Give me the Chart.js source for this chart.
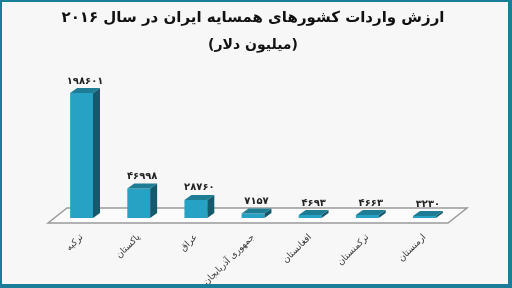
<!DOCTYPE html>
<html><head><meta charset="utf-8">
<script src="https://cdn.jsdelivr.net/npm/chart.js@4/dist/chart.umd.min.js"></script>
<style>
html,body{margin:0;padding:0;background:#f7f7f7;}
#wrap{position:relative;width:512px;height:288px;}
#frame{position:absolute;left:0;top:0;width:512px;height:288px;box-sizing:border-box;border-style:solid;border-color:#1b7d97;border-width:2px 4px 4px 2px;pointer-events:none;}
</style></head>
<body>
<div id="wrap"><canvas id="c" width="512" height="288"></canvas><div id="frame"></div></div>
<script>
const categories = ['ترکیه','پاکستان','عراق','جمهوری آذربایجان','افغانستان','ترکمنستان','ارمنستان'];
const imports = [198601, 46998, 28760, 7157, 4693, 4663, 3230];
const titleText = 'ارزش واردات کشورهای همسایه ایران در سال ۲۰۱۶';
const subtitleText = '(میلیون دلار)';

const FONT = "'DejaVu Sans', sans-serif";
const faDigits = '۰۱۲۳۴۵۶۷۸۹';
function toFa(n){ return String(n).replace(/[0-9]/g, d => faDigits[+d]); }

const DX = 7, DY = 5;
const threeD = {
  id: 'threeD',
  beforeDatasetsDraw(chart){
    const ctx = chart.ctx, a = chart.chartArea;
    const base = chart.scales.y.getPixelForValue(0);
    ctx.save();
    ctx.beginPath();
    ctx.moveTo(a.left - 5, base + 5);
    ctx.lineTo(a.left + 14, base - 10);
    ctx.lineTo(a.right + 14, base - 10);
    ctx.lineTo(a.right - 5, base + 5);
    ctx.closePath();
    ctx.fillStyle = '#fbfbfb';
    ctx.fill();
    ctx.strokeStyle = '#9a9a9a';
    ctx.lineWidth = 1.5;
    ctx.stroke();
    ctx.restore();
  },
  afterDatasetsDraw(chart){
    const ctx = chart.ctx;
    const meta = chart.getDatasetMeta(0);
    ctx.save();
    meta.data.forEach((el, i) => {
      const p = el.getProps(['x','y','base','width'], true);
      const l = p.x - p.width/2, r = p.x + p.width/2;
      ctx.beginPath();
      ctx.moveTo(r, p.y); ctx.lineTo(r + DX, p.y - DY); ctx.lineTo(r + DX, p.base - DY); ctx.lineTo(r, p.base);
      ctx.closePath(); ctx.fillStyle = '#15596d'; ctx.fill();
      ctx.beginPath();
      ctx.moveTo(l, p.y); ctx.lineTo(l + DX, p.y - DY); ctx.lineTo(r + DX, p.y - DY); ctx.lineTo(r, p.y);
      ctx.closePath(); ctx.fillStyle = '#1e7c95'; ctx.fill();
      ctx.fillStyle = '#222';
      ctx.font = 'bold 10px ' + FONT;
      ctx.textAlign = 'center';
      ctx.textBaseline = 'bottom';
      ctx.fillText(toFa(chart.data.datasets[0].data[i]), p.x + DX/2, p.y - DY - 2);
    });
    ctx.restore();
  }
};

new Chart(document.getElementById('c'), {
  type: 'bar',
  data: {
    labels: categories,
    datasets: [{ data: imports, backgroundColor: '#28a2c4', borderWidth: 0,
      barPercentage: 0.4, categoryPercentage: 1.0 }]
  },
  options: {
    responsive: false,
    animation: false,
    devicePixelRatio: 1,
    layout: { padding: { left: 53, right: 59, top: 0, bottom: 0 } },
    plugins: {
      legend: { display: false },
      tooltip: { enabled: false },
      title: { display: true, text: titleText, color: '#111',
        font: { family: FONT, size: 15, weight: 'bold' }, padding: { top: 9, bottom: 8 } },
      subtitle: { display: true, text: subtitleText, color: '#111',
        font: { family: FONT, size: 14, weight: 'bold' }, padding: { top: 2, bottom: 10 } }
    },
    scales: {
      y: { display: false, min: 0, max: 245000 },
      x: {
        grid: { display: false, drawTicks: false },
        border: { display: false },
        ticks: { minRotation: 45, maxRotation: 45, padding: 14, color: '#333',
          font: { family: FONT, size: 9 } },
        afterFit(scale){ scale.height = 70; }
      }
    }
  },
  plugins: [threeD]
});
</script>
</body></html>
